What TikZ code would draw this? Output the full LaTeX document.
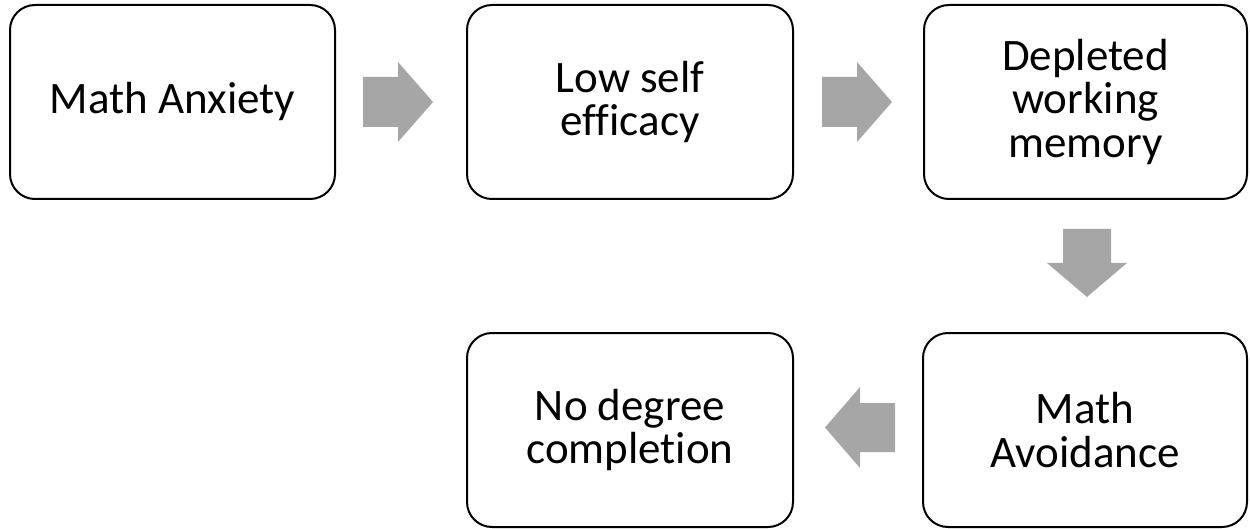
\documentclass[tikz,border=0pt]{standalone}
\usepackage{fontspec}
\setmainfont[Ligatures=NoCommon]{Carlito}
\definecolor{arrgray}{RGB}{166,166,166}
\begin{document}
\begin{tikzpicture}[x=1pt,y=-1pt,
  box/.style={draw=black,line width=2pt,rounded corners=25pt,fill=white,align=center,
    font=\fontsize{45}{43.5}\selectfont,inner sep=0pt},
  blockarrow/.style={fill=arrgray,draw=none}]
\useasboundingbox (0,0) rectangle (1250,529);
\node[box,minimum width=325pt,minimum height=194pt] (b1) at (172.5,102) {Math Anxiety};
\node[box,minimum width=326pt,minimum height=194pt] (b2) at (630,102) {Low self\\efficacy};
\node[box,minimum width=323pt,minimum height=194pt] (b3) at (1085.5,102) {Depleted\\working\\memory};
\node[box,minimum width=324pt,minimum height=194pt] (b4) at (1085,430) {Math\\Avoidance};
\node[box,minimum width=326pt,minimum height=194pt] (b5) at (630,430) {No degree\\completion};
% right arrow b1 -> b2
\fill[blockarrow] (363,77) -- (398,77) -- (398,62) -- (433,102) -- (398,142) -- (398,127) -- (363,127) -- cycle;
% right arrow b2 -> b3
\fill[blockarrow] (822,77) -- (857,77) -- (857,62) -- (892,102) -- (857,142) -- (857,127) -- (822,127) -- cycle;
% down arrow b3 -> b4
\fill[blockarrow] (1063,229) -- (1111,229) -- (1111,263) -- (1127,263) -- (1087,297) -- (1047,263) -- (1063,263) -- cycle;
% left arrow b4 -> b5
\fill[blockarrow] (895,403) -- (860,403) -- (860,387) -- (825,427.5) -- (860,468) -- (860,452) -- (895,452) -- cycle;
\end{tikzpicture}
\end{document}
